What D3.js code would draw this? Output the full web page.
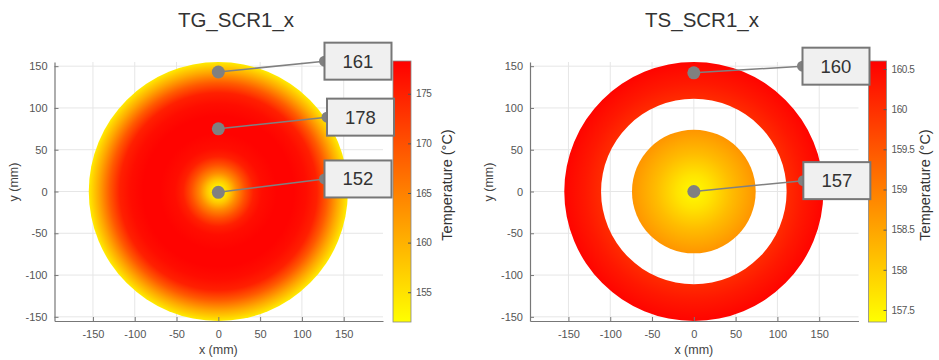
<!DOCTYPE html>
<html>
<head>
<meta charset="utf-8" />
<title>TG / TS SCR1 x</title>
<script src="https://d3js.org/d3.v7.min.js"></script>
<style>
  body, html { margin: 0; background: #ffffff; }
  svg { font-family: 'Liberation Sans', Arial, sans-serif; }
</style>
</head>
<body>
<svg id="viz" width="939" height="360"></svg>
<script>
// axis ticks (mm)
var xTicks = [-150, -100, -50, 0, 50, 100, 150];
var yTicks = [-150, -100, -50, 0, 50, 100, 150];

// TG_SCR1_x : radial temperature profile
var tgRadius = [0, 7, 14, 22, 32, 42, 52, 70, 90, 105, 118, 130, 143, 150, 155];
var tgTemp   = [152, 154, 158, 164, 170, 175, 177, 178, 178, 177, 175, 169, 161, 157, 154];
var tgRange  = [152, 178.3];
var tgCbTicks = [155, 160, 165, 170, 175];
var tgTipX = [0, 0, 0];
var tgTipY = [143, 75, -1];
var tgTipVal = [161, 178, 152];
var tgBoxX = [127, 130, 127];
var tgBoxY = [156, 89, 15];

// TS_SCR1_x : inner disk and outer ring
var tsDiskRadius = [0, 20, 45, 74];
var tsDiskTemp   = [157.4, 157.7, 158.2, 158.7];
var tsRingRadius = [111, 130, 155];
var tsRingTemp   = [160.05, 160.3, 160.55];
var tsRange  = [157.35, 160.6];
var tsCbTicks = [157.5, 158, 158.5, 159, 159.5, 160, 160.5];
var tsTipX = [0, 0];
var tsTipY = [142, 0];
var tsTipVal = [160, 157];
var tsBoxX = [130, 131];
var tsBoxY = [150, 13];

var svg = d3.select("#viz");
var defs = svg.append("defs");

function makePanel(opt) {
  var g = svg.append("g");
  var x = d3.scaleLinear().domain([-196, 197]).range([opt.left, opt.left + 328.5]);
  var y = d3.scaleLinear().domain([-155, 155]).range([321, 62]);
  var color = d3.scaleLinear().domain(opt.range).range(["#ffff00", "#ff0000"]);
  var k = x(1) - x(0);

  // grid
  g.selectAll("line.gx").data(xTicks).enter().append("line")
    .attr("x1", d => x(d)).attr("x2", d => x(d))
    .attr("y1", y.range()[0]).attr("y2", y.range()[1])
    .attr("stroke", "#e6e6e6");
  g.selectAll("line.gy").data(yTicks).enter().append("line")
    .attr("y1", d => y(d)).attr("y2", d => y(d))
    .attr("x1", x.range()[0]).attr("x2", x.range()[1])
    .attr("stroke", "#e6e6e6");

  opt.drawField(g, x, y, k, color);

  // axes
  g.append("g")
    .attr("transform", "translate(0," + y.range()[0] + ")")
    .call(d3.axisBottom(x).tickValues(xTicks).tickSize(-4).tickSizeOuter(0).tickPadding(9).tickFormat(d => String(d)))
    .call(a => a.select(".domain").attr("stroke", "#777").attr("stroke-width", 1.2))
    .call(a => a.selectAll("line").attr("stroke", "#777"))
    .call(a => a.selectAll("text").attr("fill", "#555").style("font-size", "11px"));
  g.append("g")
    .attr("transform", "translate(" + x.range()[0] + ",0)")
    .call(d3.axisLeft(y).tickValues(yTicks).tickSize(-4).tickSizeOuter(0).tickPadding(7).tickFormat(d => String(d)))
    .call(a => a.select(".domain").attr("stroke", "#777").attr("stroke-width", 1.2))
    .call(a => a.selectAll("line").attr("stroke", "#777"))
    .call(a => a.selectAll("text").attr("fill", "#555").style("font-size", "11px"));

  g.append("text").attr("x", x(0)).attr("y", 354).attr("text-anchor", "middle")
    .attr("fill", "#444").style("font-size", "12.5px").text("x (mm)");
  g.append("text").attr("transform", "translate(" + (opt.left - 37) + ",182) rotate(-90)")
    .attr("text-anchor", "middle").attr("fill", "#444").style("font-size", "12.5px").text("y (mm)");

  g.append("text").attr("x", opt.titleX).attr("y", 27).attr("text-anchor", "middle")
    .attr("fill", "#333").style("font-size", "20.5px").text(opt.title);

  // colorbar
  var cbL = opt.left + 338.5, cbW = 18;
  var cy = d3.scaleLinear().domain(opt.range).range([322, 61]);
  var lg = defs.append("linearGradient").attr("id", opt.id + "cb")
    .attr("x1", 0).attr("y1", 1).attr("x2", 0).attr("y2", 0);
  lg.append("stop").attr("offset", 0).attr("stop-color", color(opt.range[0]));
  lg.append("stop").attr("offset", 1).attr("stop-color", color(opt.range[1]));
  g.append("rect").attr("x", cbL).attr("y", 61).attr("width", cbW).attr("height", 261)
    .attr("fill", "url(#" + opt.id + "cb)").attr("stroke", "#888").attr("stroke-width", 0.8);
  var cb = g.append("g").attr("transform", "translate(" + (cbL + cbW) + ",0)")
    .call(d3.axisRight(cy).tickValues(opt.cbTicks).tickSize(-3).tickPadding(5).tickFormat(d => String(d)));
  cb.select(".domain").remove();
  cb.selectAll("line").attr("stroke", "#555");
  cb.selectAll("text").attr("fill", "#555").style("font-size", "10px").style("letter-spacing", "-0.4px");
  g.append("text").attr("transform", "translate(" + opt.cbLabelX + ",185) rotate(-90)")
    .attr("text-anchor", "middle").attr("fill", "#333").style("font-size", "14.5px")
    .text("Temperature (°C)");

  // datatips
  opt.tips.forEach(function(t) {
    var bx = x(t.bx), by = y(t.by);
    g.append("line").attr("x1", x(t.x)).attr("y1", y(t.y)).attr("x2", bx).attr("y2", by)
      .attr("stroke", "#808080").attr("stroke-width", 1.5);
    g.append("circle").attr("cx", x(t.x)).attr("cy", y(t.y)).attr("r", 6.5).attr("fill", "#808080");
    g.append("circle").attr("cx", bx).attr("cy", by).attr("r", 5.5).attr("fill", "#808080");
    g.append("rect").attr("x", bx).attr("y", by - 18.5).attr("width", 67).attr("height", 37)
      .attr("fill", "#f0f0f0").attr("stroke", "#777").attr("stroke-width", 2);
    g.append("text").attr("x", bx + 33.5).attr("y", by + 6.5).attr("text-anchor", "middle")
      .attr("fill", "#333").style("font-size", "18.5px").text(t.v);
  });
}

function radialFill(id, cx, cy, rmax, k, radii, temps, color) {
  var rg = defs.append("radialGradient").attr("id", id)
    .attr("gradientUnits", "userSpaceOnUse")
    .attr("cx", cx).attr("cy", cy).attr("r", rmax * k);
  radii.forEach(function(r, i) {
    rg.append("stop").attr("offset", r / rmax).attr("stop-color", color(temps[i]));
  });
  return "url(#" + id + ")";
}

makePanel({
  id: "tg", left: 54.5, title: "TG_SCR1_x", titleX: 236, cbLabelX: 452,
  range: tgRange, cbTicks: tgCbTicks,
  tips: tgTipX.map((d, i) => ({x: d, y: tgTipY[i], v: tgTipVal[i], bx: tgBoxX[i], by: tgBoxY[i]})),
  drawField: function(g, x, y, k, color) {
    var rmax = d3.max(tgRadius);
    g.append("circle").attr("cx", x(0)).attr("cy", y(0)).attr("r", rmax * k)
      .attr("fill", radialFill("tgField", x(0), y(0), rmax, k, tgRadius, tgTemp, color));
  }
});

makePanel({
  id: "ts", left: 530, title: "TS_SCR1_x", titleX: 702, cbLabelX: 930,
  range: tsRange, cbTicks: tsCbTicks,
  tips: tsTipX.map((d, i) => ({x: d, y: tsTipY[i], v: tsTipVal[i], bx: tsBoxX[i], by: tsBoxY[i]})),
  drawField: function(g, x, y, k, color) {
    var ro = d3.max(tsRingRadius), ri = d3.min(tsRingRadius);
    var ringStops = [0].concat(tsRingRadius), ringT = [tsRingTemp[0]].concat(tsRingTemp);
    var p = d3.path();
    p.arc(x(0), y(0), ro * k, 0, 2 * Math.PI);
    p.moveTo(x(0) + ri * k, y(0));
    p.arc(x(0), y(0), ri * k, 0, 2 * Math.PI);
    g.append("path").attr("d", p.toString()).attr("fill-rule", "evenodd")
      .attr("fill", radialFill("tsRing", x(0), y(0), ro, k, ringStops, ringT, color));
    var rd = d3.max(tsDiskRadius);
    g.append("circle").attr("cx", x(0)).attr("cy", y(0)).attr("r", rd * k)
      .attr("fill", radialFill("tsDisk", x(0), y(0), rd, k, tsDiskRadius, tsDiskTemp, color));
  }
});
</script>
</body>
</html>
